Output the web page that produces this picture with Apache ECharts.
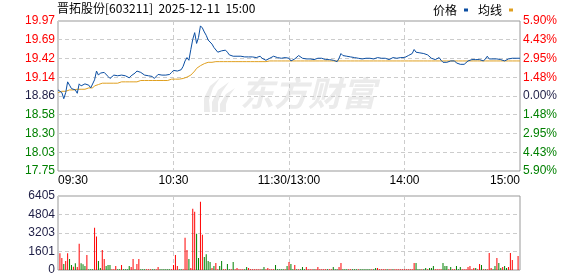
<!DOCTYPE html>
<html><head><meta charset="utf-8">
<script src="https://cdn.jsdelivr.net/npm/echarts@6/dist/echarts.min.js"></script>
<style>html,body{margin:0;padding:0;background:#fff}#c{width:578px;height:276px}</style>
</head><body><div id="c"></div>
<script>
// ---------- data ----------
const stockName = '晋拓股份';
const stockCode = '603211';
const stamp = '2025-12-11  15:00';
const preClose = 18.86;
const pctLimit = 5.90;          // axis half-range in %
const volMax = 6405;

const tickIndex = [0, 60, 120, 180, 240];
const tickLabels = ['09:30', '10:30', '11:30/13:00', '14:00', '15:00'];

const price = [
18.95,18.93,18.91,18.82,18.91,19.07,19.02,18.97,18.96,18.95,
18.90,19.04,19.01,19.03,19.04,19.04,19.02,18.98,18.97,19.10,
19.23,19.17,19.20,19.21,19.21,19.20,19.15,19.12,19.12,19.17,
19.17,19.16,19.17,19.17,19.16,19.16,19.15,19.13,19.16,19.17,
19.20,19.23,19.23,19.21,19.19,19.17,19.16,19.16,19.16,19.15,
19.12,19.14,19.18,19.17,19.17,19.17,19.17,19.17,19.18,19.21,
19.24,19.24,19.23,19.22,19.25,19.30,19.38,19.43,19.39,19.55,
19.70,19.80,19.64,19.73,19.90,19.87,19.81,19.76,19.69,19.68,
19.63,19.58,19.57,19.51,19.51,19.53,19.52,19.54,19.51,19.47,
19.46,19.45,19.45,19.45,19.44,19.45,19.45,19.44,19.43,19.44,
19.45,19.44,19.44,19.43,19.43,19.45,19.42,19.40,19.39,19.41,
19.42,19.44,19.45,19.44,19.43,19.43,19.42,19.42,19.43,19.42,
19.42,19.38,19.38,19.41,19.43,19.46,19.44,19.42,19.41,19.41,
19.41,19.41,19.41,19.40,19.41,19.42,19.43,19.42,19.41,19.40,
19.41,19.40,19.39,19.39,19.38,19.37,19.42,19.49,19.46,19.45,
19.45,19.44,19.44,19.43,19.43,19.43,19.42,19.42,19.41,19.42,
19.42,19.41,19.42,19.42,19.41,19.42,19.43,19.42,19.42,19.43,
19.42,19.41,19.40,19.42,19.43,19.42,19.42,19.43,19.43,19.43,
19.43,19.45,19.46,19.47,19.49,19.55,19.51,19.50,19.50,19.49,
19.49,19.48,19.47,19.45,19.42,19.40,19.40,19.41,19.43,19.39,
19.36,19.34,19.36,19.38,19.38,19.37,19.38,19.35,19.35,19.33,
19.31,19.33,19.35,19.38,19.40,19.40,19.40,19.40,19.38,19.40,
19.41,19.38,19.41,19.45,19.41,19.40,19.41,19.42,19.41,19.40,
19.40,19.39,19.38,19.39,19.41,19.42,19.42,19.42,19.42,19.42,
19.42
];

const avgPrice = [
18.91,18.93,18.93,18.93,18.93,18.95,18.95,18.95,18.95,18.96,
18.96,18.96,18.96,18.96,18.96,18.96,18.98,18.98,18.98,19.01,
19.01,19.03,19.03,19.05,19.05,19.05,19.05,19.05,19.05,19.05,
19.05,19.05,19.05,19.07,19.07,19.07,19.07,19.07,19.07,19.07,
19.07,19.07,19.09,19.09,19.09,19.09,19.09,19.09,19.09,19.09,
19.09,19.09,19.09,19.09,19.09,19.09,19.09,19.09,19.11,19.11,
19.11,19.11,19.11,19.11,19.11,19.12,19.13,19.14,19.15,19.17,
19.20,19.23,19.27,19.29,19.31,19.32,19.34,19.35,19.36,19.36,
19.36,19.36,19.37,19.37,19.37,19.37,19.37,19.37,19.37,19.37,
19.37,19.37,19.37,19.37,19.37,19.37,19.37,19.37,19.37,19.37,
19.37,19.37,19.37,19.37,19.37,19.37,19.37,19.37,19.37,19.37,
19.38,19.38,19.38,19.38,19.38,19.38,19.38,19.38,19.38,19.38,
19.38,19.38,19.38,19.38,19.38,19.38,19.38,19.38,19.38,19.38,
19.38,19.38,19.38,19.38,19.38,19.38,19.38,19.38,19.38,19.38,
19.38,19.38,19.38,19.38,19.38,19.38,19.38,19.38,19.38,19.38,
19.38,19.38,19.38,19.38,19.38,19.38,19.38,19.38,19.38,19.38,
19.38,19.38,19.38,19.38,19.38,19.38,19.38,19.38,19.38,19.38,
19.38,19.38,19.38,19.38,19.38,19.38,19.38,19.38,19.38,19.38,
19.38,19.38,19.38,19.38,19.38,19.38,19.38,19.38,19.38,19.38,
19.38,19.38,19.38,19.38,19.38,19.38,19.38,19.38,19.38,19.38,
19.38,19.38,19.38,19.38,19.38,19.38,19.38,19.38,19.38,19.38,
19.38,19.38,19.38,19.38,19.38,19.38,19.38,19.38,19.38,19.38,
19.38,19.38,19.38,19.38,19.38,19.38,19.38,19.38,19.38,19.38,
19.38,19.38,19.38,19.38,19.38,19.38,19.38,19.38,19.38,19.38,
19.38
];

const volume = [
0,1450,1044,522,783,1450,957,435,290,580,
261,2262,580,493,348,1305,70,70,70,3654,
2900,783,174,1740,957,348,435,435,70,70,
348,70,70,435,70,70,70,348,261,957,
70,522,957,70,70,70,70,70,70,70,
70,70,261,70,70,70,70,70,70,70,
435,1305,348,70,70,70,2784,1740,957,174,
5307,5046,3132,1044,5916,3045,1131,1363,783,696,
174,348,609,70,348,783,70,70,522,70,
70,696,70,174,70,70,70,70,261,174,
70,70,70,70,70,70,70,261,70,174,
70,70,70,435,70,70,70,70,70,348,
696,522,70,435,70,70,70,261,70,261,
70,70,70,70,70,261,70,70,70,70,
70,70,70,261,70,70,261,609,70,70,
70,70,70,70,70,70,70,70,70,70,
70,70,70,70,70,174,174,70,70,70,
70,70,70,70,70,70,70,70,70,70,
70,70,70,70,70,609,609,70,70,70,
70,174,70,174,174,348,70,70,70,70,
609,348,348,70,261,70,70,348,70,261,
70,70,70,261,348,70,174,174,70,522,
435,70,70,70,1479,174,70,348,1044,609,
174,261,348,174,261,1479,870,0,0,1218,
0
];
// 1 = price up (red), -1 = price down (green)
const volumeDir = [
1,1,1,-1,1,1,-1,-1,1,-1,
1,1,-1,-1,-1,1,-1,-1,-1,1,
1,-1,-1,1,1,-1,-1,-1,1,1,
1,-1,-1,1,-1,-1,-1,-1,1,1,
-1,1,1,-1,-1,-1,1,1,1,-1,
-1,1,1,-1,-1,-1,-1,-1,-1,1,
1,1,1,-1,-1,1,1,1,-1,1,
1,1,-1,-1,1,1,-1,-1,-1,-1,
1,-1,1,1,-1,-1,1,1,-1,-1,
1,-1,1,1,1,1,1,-1,-1,1,
1,1,1,1,1,1,-1,-1,1,1,
1,1,1,-1,-1,-1,-1,-1,1,-1,
1,-1,-1,1,-1,1,-1,-1,-1,1,
1,1,1,-1,1,1,1,1,1,1,
-1,1,1,-1,-1,-1,1,1,-1,-1,
-1,1,1,-1,-1,-1,1,-1,-1,-1,
-1,-1,-1,1,-1,-1,1,1,1,1,
1,-1,1,1,-1,1,1,1,1,1,
1,1,1,1,1,1,-1,-1,-1,1,
-1,-1,1,-1,-1,-1,1,1,1,1,
-1,-1,-1,1,-1,1,1,-1,-1,-1,
1,1,1,1,1,1,1,-1,1,1,
-1,1,-1,1,1,1,-1,-1,1,-1,
-1,1,-1,-1,1,1,1,1,1,1,
1
];

// ---------- minute categories ----------
const times = [];
(function () {
  const pad = n => (n < 10 ? '0' : '') + n;
  for (let m = 9 * 60 + 30; m <= 11 * 60 + 30; m++) times.push(pad(Math.floor(m / 60)) + ':' + pad(m % 60));
  for (let m = 13 * 60 + 1; m <= 15 * 60; m++) times.push(pad(Math.floor(m / 60)) + ':' + pad(m % 60));
})();

// ---------- styling ----------
const RED = '#ff0000', GREEN = '#008000', NEUTRAL = '#1e1e46';
const GRID_LINE = { type: [4, 3], color: '#cccccc', width: 1 };
const FONT = 'Arial, "Liberation Sans", sans-serif';
const CJK = '"Noto Sans CJK SC", sans-serif';
const WM = '#ebebeb';

const pMin = +(preClose * (1 - pctLimit / 100)).toFixed(5);
const pMax = +(preClose * (1 + pctLimit / 100)).toFixed(5);
const pInterval = (pMax - pMin) / 8;
const labelColorPrice = v => (v > preClose + 1e-4 ? RED : v < preClose - 1e-4 ? GREEN : NEUTRAL);
const labelColorPct = v => (v > 1e-6 ? RED : v < -1e-6 ? GREEN : NEUTRAL);
const tickSet = new Set(tickIndex);
const innerTick = i => tickSet.has(i) && i !== 0 && i !== times.length - 1;

const chart = echarts.init(document.getElementById('c'), null, { renderer: 'canvas' });
chart.setOption({
  animation: false,
  backgroundColor: '#ffffff',
  title: {
    text: stockName + '[' + stockCode + ']  ' + stamp,
    left: 57, top: 2, padding: 0,
    textStyle: { fontSize: 12, fontWeight: 'normal', color: '#000', fontFamily: CJK }
  },
  legend: {
    data: ['价格', '均线'],
    right: 65, top: 4, padding: 0,
    align: 'right', icon: 'rect', itemWidth: 4, itemHeight: 3, itemGap: 10,
    textStyle: { fontSize: 12, color: '#000', fontFamily: CJK, padding: [0, 2, 0, 0] }
  },
  graphic: {
    elements: [
      {
        type: 'text', x: 240, y: 76, z: -10, silent: true,
        style: { text: '东方财富', font: 'italic bold 34px "Noto Sans CJK SC"', fill: WM }
      },
      {
        type: 'polygon', x: 198, y: 78, z: -10, silent: true,
        shape: { points: [[22, 0], [12, 8], [6, 20], [6, 34], [12, 34], [11, 22], [15, 10]] },
        style: { fill: WM }
      },
      {
        type: 'polygon', x: 198, y: 78, z: -10, silent: true,
        shape: { points: [[31, 4], [20, 12], [14, 24], [14, 34], [20, 34], [20, 24], [24, 14]] },
        style: { fill: WM }
      },
      {
        type: 'polygon', x: 198, y: 78, z: -10, silent: true,
        shape: { points: [[37, 10], [28, 16], [22, 26], [22, 34], [28, 34], [28, 26], [31, 18]] },
        style: { fill: WM }
      }
    ]
  },
  grid: [
    { left: 58, top: 21, width: 462, height: 150, show: true, borderColor: '#999', borderWidth: 1, backgroundColor: 'transparent' },
    { left: 58, top: 196, width: 462, height: 74, show: true, borderColor: '#999', borderWidth: 1, backgroundColor: 'transparent' }
  ],
  xAxis: [
    {
      type: 'category', gridIndex: 0, data: times, boundaryGap: false,
      axisLine: { show: false }, axisTick: { show: false },
      axisLabel: {
        interval: i => tickSet.has(i),
        formatter: (v, i) => tickLabels[tickIndex.indexOf(i)] || '',
        color: '#000', fontSize: 12, fontFamily: FONT, margin: 4,
        alignMinLabel: 'left', alignMaxLabel: 'right'
      },
      splitLine: { show: true, interval: innerTick, lineStyle: GRID_LINE }
    },
    {
      type: 'category', gridIndex: 1, data: times, boundaryGap: false,
      axisLine: { show: false }, axisTick: { show: false }, axisLabel: { show: false },
      splitLine: { show: true, interval: innerTick, lineStyle: GRID_LINE }
    }
  ],
  yAxis: [
    {
      type: 'value', gridIndex: 0, min: pMin, max: pMax, interval: pInterval,
      axisLine: { show: false }, axisTick: { show: false },
      axisLabel: { formatter: v => v.toFixed(2), color: labelColorPrice, fontSize: 12, fontFamily: FONT, margin: 3 },
      splitLine: { show: true, lineStyle: GRID_LINE }
    },
    {
      type: 'value', gridIndex: 0, position: 'right', min: -pctLimit, max: pctLimit, interval: pctLimit / 4,
      axisLine: { show: false }, axisTick: { show: false },
      axisLabel: {
        formatter: v => (Math.round(Math.abs(v) * 100 + 1e-7) / 100).toFixed(2) + '%',
        color: labelColorPct, fontSize: 12, fontFamily: FONT, margin: 3
      },
      splitLine: { show: false }
    },
    {
      type: 'value', gridIndex: 1, min: 0, max: volMax, interval: volMax / 4,
      axisLine: { show: false }, axisTick: { show: false },
      axisLabel: { formatter: v => String(Math.round(v)), color: NEUTRAL, fontSize: 12, fontFamily: FONT, margin: 3 },
      splitLine: { show: true, lineStyle: GRID_LINE }
    }
  ],
  series: [
    {
      name: '均线', type: 'line', xAxisIndex: 0, yAxisIndex: 0, data: avgPrice,
      symbol: 'none', z: 3,
      lineStyle: { color: '#e0a020', width: 1 }, itemStyle: { color: '#e0a020' }
    },
    {
      name: '价格', type: 'line', xAxisIndex: 0, yAxisIndex: 0, data: price,
      symbol: 'none', z: 4,
      lineStyle: { color: '#0b4ea2', width: 1 }, itemStyle: { color: '#0b4ea2' }
    },
    {
      name: '成交量', type: 'bar', xAxisIndex: 1, yAxisIndex: 2, barWidth: 1,
      data: volume.map((v, i) => ({ value: v, itemStyle: { color: volumeDir[i] > 0 ? RED : GREEN } }))
    }
  ]
});
</script>
</body></html>
